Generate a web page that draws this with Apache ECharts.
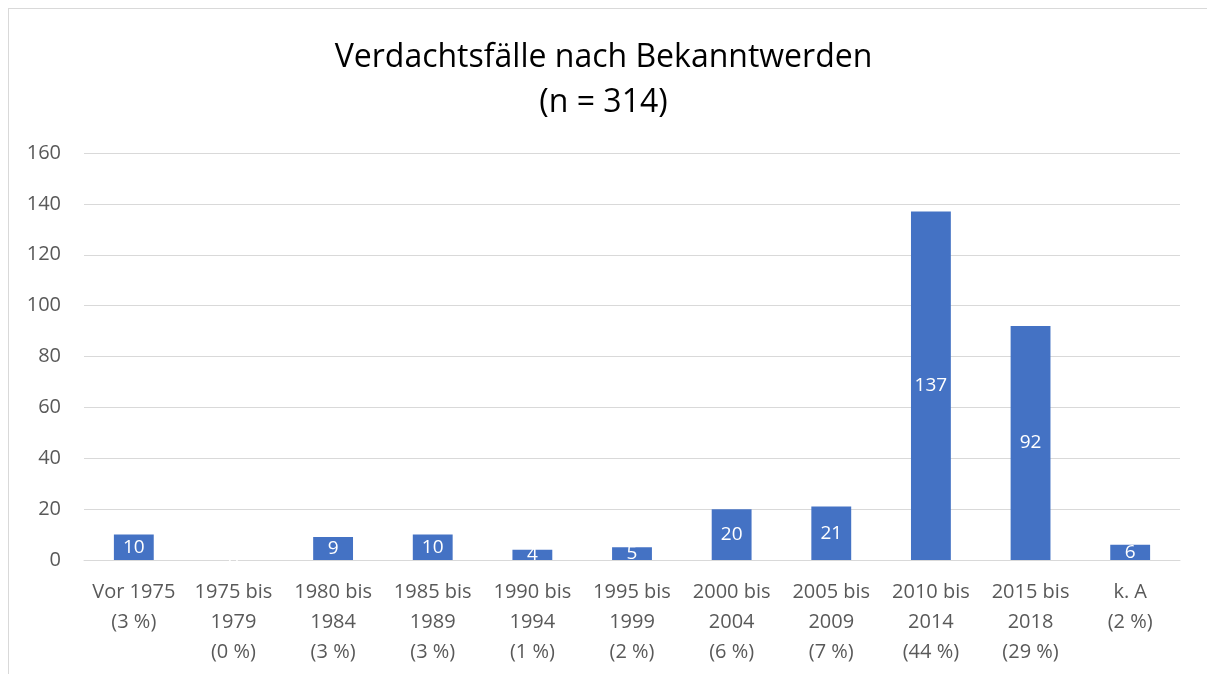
<!DOCTYPE html>
<html><head><meta charset="utf-8">
<script src="https://cdn.jsdelivr.net/npm/echarts@6/dist/echarts.min.js"></script>
<style>html,body{margin:0;padding:0;background:#fff}#c{width:1207px;height:674px}
#frame{position:absolute;left:8px;top:8px;width:1210px;height:680px;border:1px solid #d9d9d9;box-sizing:border-box;pointer-events:none}</style>
</head><body><div id="c"></div><div id="frame"></div>
<script>
const categories = ["Vor 1975\n(3 %)","1975 bis\n1979\n(0 %)","1980 bis\n1984\n(3 %)","1985 bis\n1989\n(3 %)","1990 bis\n1994\n(1 %)","1995 bis\n1999\n(2 %)","2000 bis\n2004\n(6 %)","2005 bis\n2009\n(7 %)","2010 bis\n2014\n(44 %)","2015 bis\n2018\n(29 %)","k. A\n(2 %)"];
const values = [10,0,9,10,4,5,20,21,137,92,6];
const titleText = "Verdachtsfälle nach Bekanntwerden\n(n = 314)";
const FONT = "Open Sans";
const chart = echarts.init(document.getElementById('c'));
chart.setOption({
  animation:false,
  title:{text:titleText,left:'center',top:30,textStyle:{fontFamily:FONT,fontSize:32,fontWeight:'normal',color:'#000',lineHeight:45}},
  grid:{left:84,right:27,top:153,bottom:114},
  xAxis:{type:'category',data:categories,axisTick:{show:false},
    axisLine:{lineStyle:{color:'#d9d9d9',width:1}},
    axisLabel:{fontFamily:FONT,fontSize:20,color:'#595959',lineHeight:30,margin:17,interval:0}},
  yAxis:{type:'value',min:0,max:160,interval:20,
    splitLine:{lineStyle:{color:'#d9d9d9',width:1}},
    axisLabel:{fontFamily:FONT,fontSize:20,color:'#595959',margin:23}},
  series:[{type:'bar',data:values,barWidth:'40%',itemStyle:{color:'#4472C4'},
    label:{show:true,position:'inside',color:'#fff',fontFamily:FONT,fontSize:19}}]
});
</script></body></html>
